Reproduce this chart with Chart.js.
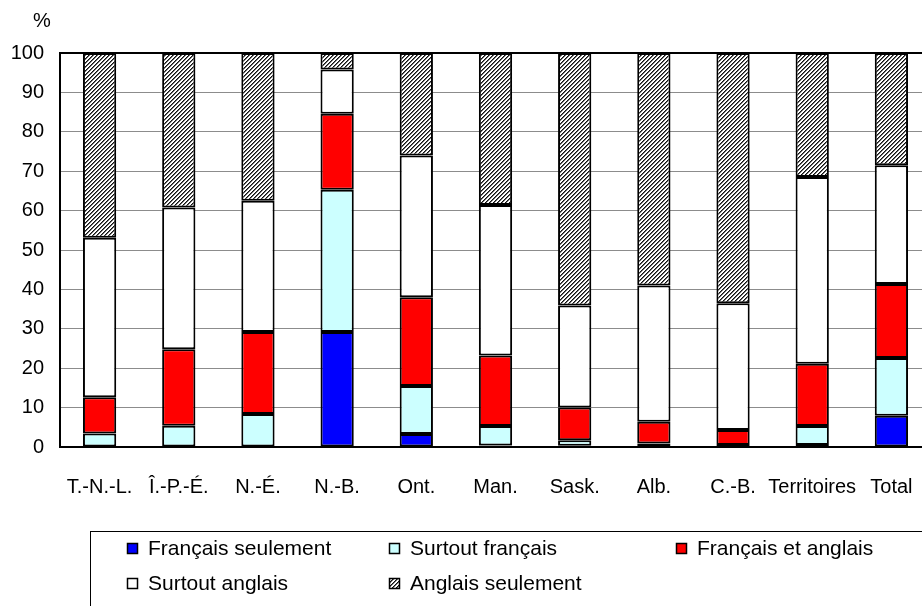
<!DOCTYPE html>
<html>
<head>
<meta charset="utf-8">
<script src="https://cdn.jsdelivr.net/npm/chart.js@4.4.1/dist/chart.umd.min.js"></script>
<style>
  html, body { margin: 0; padding: 0; background: #fff; overflow: hidden; }
  #wrap { width: 935px; height: 606px; }
</style>
</head>
<body>
<div id="wrap"><canvas id="myChart" width="935" height="606"></canvas></div>
<script>
// provinces / territories
const labels = ['T.-N.-L.', 'Î.-P.-É.', 'N.-É.', 'N.-B.', 'Ont.', 'Man.', 'Sask.', 'Alb.', 'C.-B.', 'Territoires', 'Total'];
const yTicks = [0, 10, 20, 30, 40, 50, 60, 70, 80, 90, 100];

// values in %
const francaisSeulement = [0, 0, 0, 29.2, 3.3, 0.4, 0.3, 0.1, 0.2, 0.5, 7.9];
const surtoutFrancais   = [3.4, 5.4, 8.4, 36.1, 12.2, 4.9, 1.4, 0.8, 0.3, 4.8, 14.7];
const francaisAnglais   = [9.2, 19.4, 20.8, 19.3, 22.5, 17.9, 8.3, 5.5, 3.8, 15.8, 18.8];
const surtoutAnglais    = [40.5, 36.0, 33.3, 11.2, 36.0, 38.2, 25.9, 34.6, 32.2, 47.4, 30.1];
const anglaisSeulement  = [46.9, 39.2, 37.5, 4.2, 26.0, 38.6, 64.1, 59.0, 63.5, 31.5, 28.5];

const FONT = 'Liberation Sans, Arial, sans-serif';

// diagonal hatch for "Anglais seulement"
function makeHatch() {
    const c = document.createElement('canvas');
    c.width = 4; c.height = 4;
    const g = c.getContext('2d');
    g.fillStyle = '#fff';
    g.fillRect(0, 0, 4, 4);
    g.fillStyle = '#111';
    for (let i = 0; i < 4; i++) {
        g.fillRect(3 - i, i, 1, 1);
    }
    g.fillStyle = '#6a6a6a';
    for (let i = 0; i < 4; i++) {
        g.fillRect((4 - i) % 4, i, 1, 1);
    }
    return g.createPattern(c, 'repeat');
}
const hatch = makeHatch();

const seriesNames = ['Français seulement', 'Surtout français', 'Français et anglais', 'Surtout anglais', 'Anglais seulement'];
const seriesData = [francaisSeulement, surtoutFrancais, francaisAnglais, surtoutAnglais, anglaisSeulement];
const seriesFill = ['#0000ff', '#ccffff', '#ff0000', '#ffffff', hatch];

// legend slots (x of marker, y centre)
const legendSlots = [[127, 548], [389, 548], [676, 548], [127, 583], [389, 583]];

const extras = {
    id: 'extras',
    afterDraw(chart) {
        const c = chart.ctx;
        c.save();
        c.font = '20px ' + FONT;
        c.fillStyle = '#000';
        c.textBaseline = 'middle';
        c.textAlign = 'center';
        c.fillText('%', 42, 21);

        // legend frame
        c.strokeStyle = '#000';
        c.lineWidth = 1;
        c.strokeRect(90.5, 531.5, 900, 120);

        c.font = '21px ' + FONT;
        c.textAlign = 'left';
        chart.data.datasets.forEach(function (ds, i) {
            const s = legendSlots[i];
            c.fillStyle = ds.backgroundColor;
            c.fillRect(s[0], s[1] - 5, 11, 11);
            c.strokeStyle = '#000';
            c.lineWidth = 1.5;
            c.strokeRect(s[0] + 0.5, s[1] - 4.5, 10, 10);
            c.fillStyle = '#000';
            c.fillText(ds.label, s[0] + 21, s[1] + 1);
        });
        c.restore();
    }
};

const ctx = document.getElementById('myChart');
new Chart(ctx, {
    type: 'bar',
    data: {
        labels: labels,
        datasets: seriesNames.map(function (name, i) {
            return {
                label: name,
                data: seriesData[i],
                backgroundColor: seriesFill[i],
                borderColor: '#000',
                borderWidth: 2,
                borderSkipped: false,
                barPercentage: 0.42,
                categoryPercentage: 1
            };
        })
    },
    options: {
        responsive: false,
        animation: false,
        layout: { padding: { top: 53, right: 4, bottom: 99, left: 0 } },
        plugins: {
            legend: { display: false },
            tooltip: { enabled: false }
        },
        scales: {
            x: {
                stacked: true,
                grid: { display: false },
                border: { display: true, color: '#000', width: 2 },
                ticks: {
                    color: '#000',
                    font: { family: FONT, size: 20 },
                    padding: 20,
                    maxRotation: 0,
                    autoSkip: false
                },
                afterFit: function (scale) { scale.height = 60; }
            },
            y: {
                stacked: true,
                min: 0,
                max: 100,
                afterBuildTicks: function (scale) {
                    scale.ticks = yTicks.map(function (v) { return { value: v }; });
                },
                grid: {
                    drawTicks: false,
                    color: function (c) { return c.tick && c.tick.value === 100 ? '#000' : '#8c8c8c'; },
                    lineWidth: function (c) { return c.tick && c.tick.value === 100 ? 2 : 1; }
                },
                border: { display: true, color: '#000', width: 2 },
                ticks: {
                    color: '#000',
                    font: { family: FONT, size: 20 },
                    padding: 16
                },
                afterFit: function (scale) { scale.width = 60; }
            }
        }
    },
    plugins: [extras]
});
</script>
</body>
</html>
